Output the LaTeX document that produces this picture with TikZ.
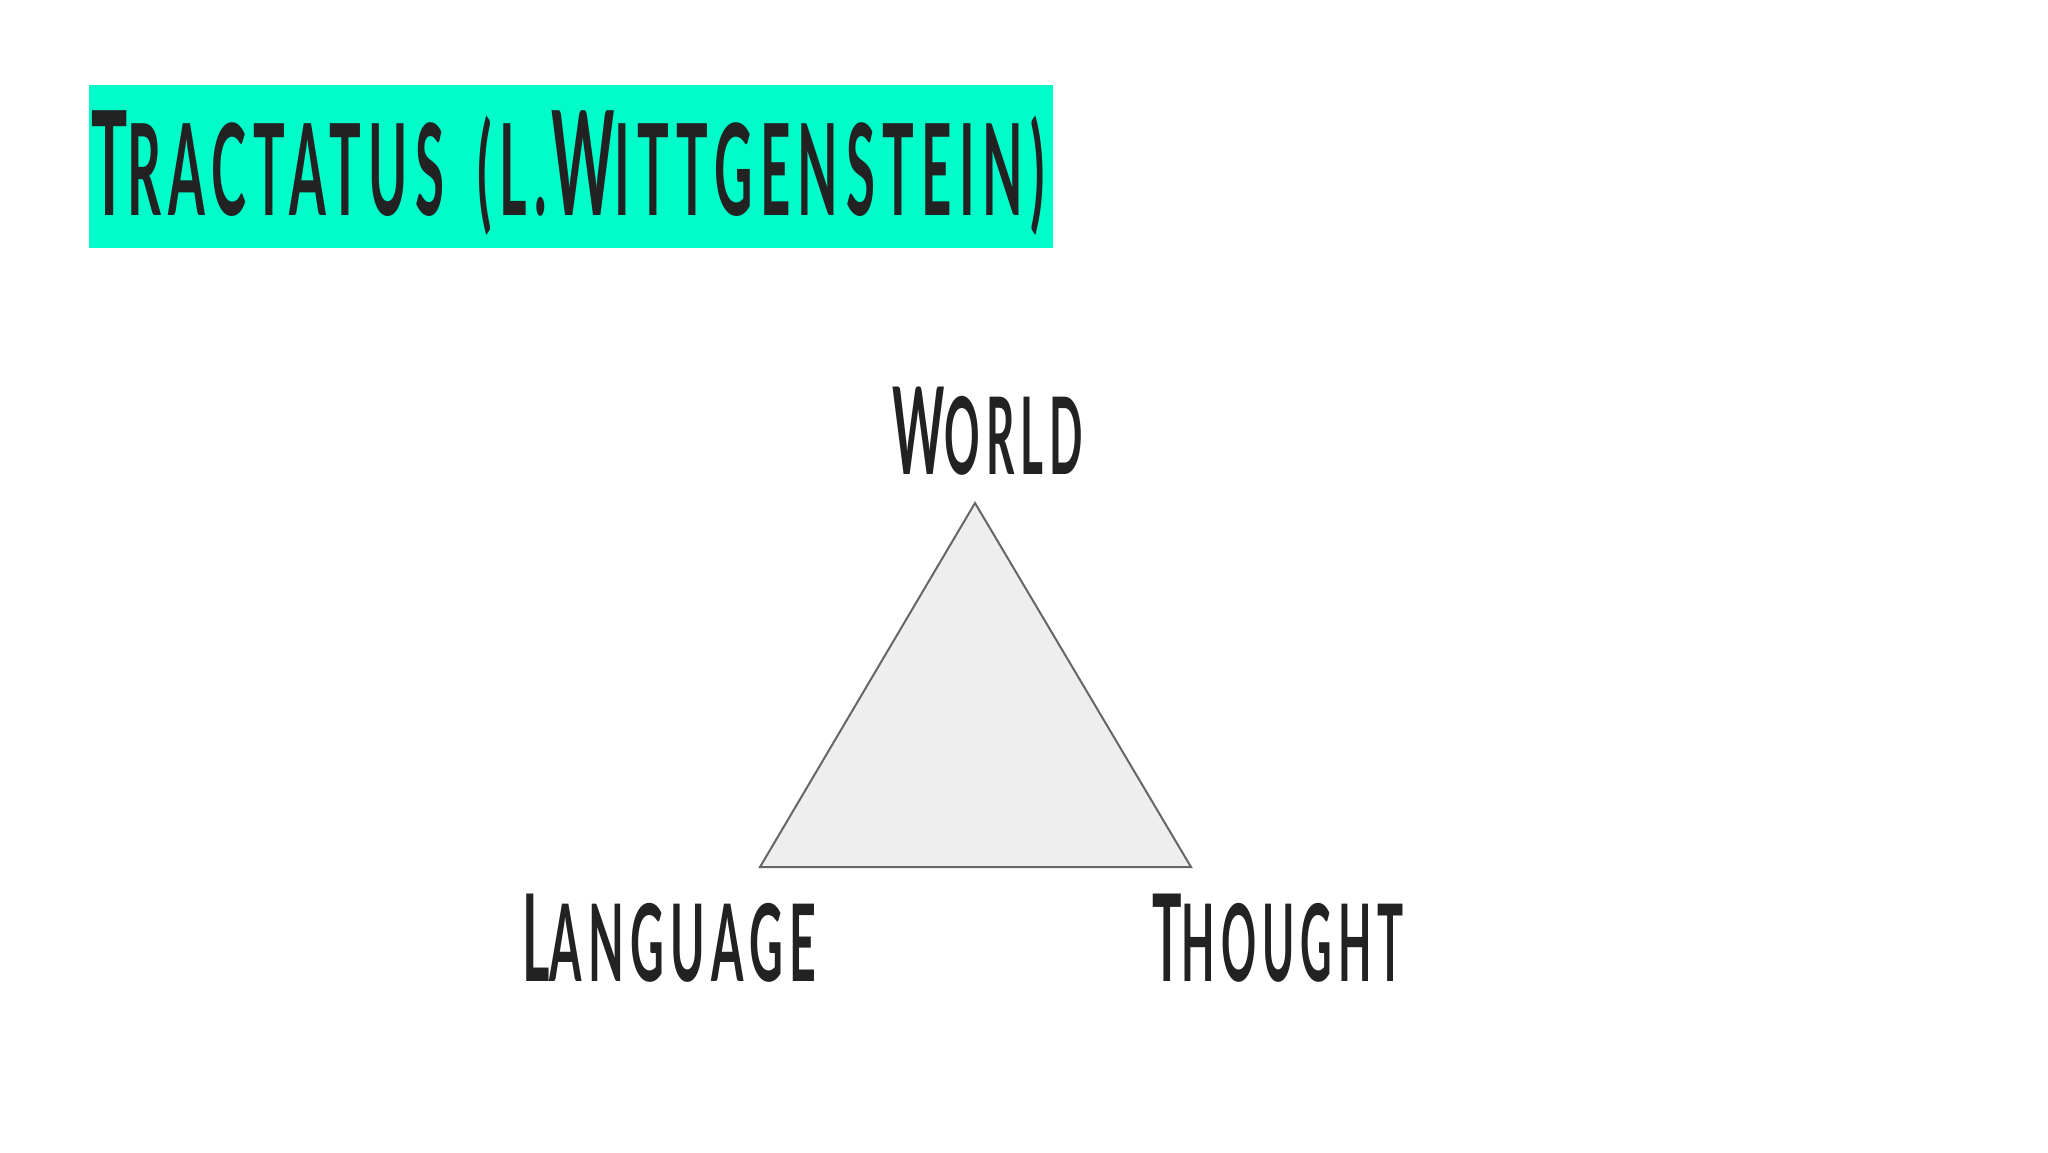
\documentclass[tikz,border=0pt]{standalone}
\usepackage{fontspec}
\setmainfont{Lato}
\usepackage{graphicx}
\definecolor{mint}{HTML}{00FDC9}
\definecolor{ink}{HTML}{222222}
\definecolor{trifill}{HTML}{EEEEEE}
\definecolor{triedge}{HTML}{666666}
\newcommand{\sizedtxt}[2]{{\fontsize{#1pt}{#1pt}\selectfont\addfontfeatures{LetterSpace=14}#2}}
\tikzset{
  lbl/.style={anchor=base west, inner sep=0pt, outer sep=0pt, text=ink, font=\bfseries},
  tri/.style={draw=triedge, fill=trifill, line width=2pt, line join=miter}
}
\begin{document}
\begin{tikzpicture}[x=1pt, y=-1pt]
\useasboundingbox (0,0) rectangle (2048,1152);
\fill[white] (0,0) rectangle (2048,1152);
% title box
\node[fill=mint, anchor=north west, minimum width=964pt, minimum height=163pt, inner sep=0pt] (titlebox) at (89,85) {};
\node[lbl] (title) at (91,215) {\resizebox{954pt}{\height}{\sizedtxt{145}{T}\sizedtxt{127}{RACTATUS}\hspace{80pt}\sizedtxt{127}{(L.}\hspace{10pt}\sizedtxt{145}{W}\sizedtxt{127}{ITTGENSTEIN)}}};
% triangle
\coordinate (apex) at (975,503);
\coordinate (bl) at (760,867);
\coordinate (br) at (1191,867);
\draw[tri] (apex) -- (br) -- (bl) -- cycle;
% labels
\node[lbl] (world) at (892,474) {\resizebox{191pt}{\height}{\sizedtxt{121}{W}\sizedtxt{107}{ORLD}}};
\node[lbl] (language) at (522,981) {\resizebox{294pt}{\height}{\sizedtxt{121}{L}\sizedtxt{107}{ANGUAGE}}};
\node[lbl] (thought) at (1152,981) {\resizebox{252pt}{\height}{\sizedtxt{121}{T}\sizedtxt{107}{HOUGHT}}};
\end{tikzpicture}
\end{document}
